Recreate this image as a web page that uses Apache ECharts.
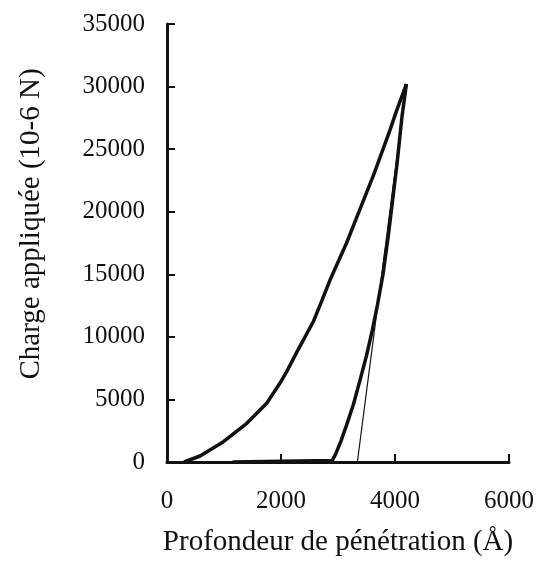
<!DOCTYPE html>
<html><head><meta charset="utf-8">
<script src="https://cdn.jsdelivr.net/npm/echarts@6/dist/echarts.min.js"></script>
<style>html,body{margin:0;padding:0;background:#fff}#c{width:543px;height:569px}</style>
</head><body><div id="c"></div>
<script>
// Loading curve (depth Å, load 10-6 N)
const loadDepth = [300, 580, 990, 1400, 1750, 1980, 2100, 2280, 2570, 2710, 2860, 3150, 3360, 3630, 3910, 4030, 4200];
const loadForce = [0, 480, 1620, 3090, 4690, 6290, 7220, 8800, 11250, 12810, 14540, 17500, 19900, 23000, 26500, 28100, 30200];
// Unloading curve
const unloadDepth = [4200, 4120, 4040, 3960, 3880, 3790, 3690, 3600, 3500, 3390, 3270, 3150, 3050, 2960, 2900, 2880, 1150];
const unloadForce = [30200, 27500, 24000, 21000, 18000, 15000, 12500, 10500, 8500, 6600, 4600, 2950, 1650, 650, 120, 0, 0];
// Tangent line at start of unloading
const tangentDepth = [4200, 3340];
const tangentForce = [30200, 0];

const xTicks = [0, 2000, 4000, 6000];
const yTicks = [0, 5000, 10000, 15000, 20000, 25000, 30000, 35000];

const FONT = '"Liberation Serif", "Times New Roman", serif';
const zip = (a, b) => a.map((v, i) => [v, b[i]]);

const chart = echarts.init(document.getElementById('c'), null, {renderer: 'canvas'});
chart.setOption({
  animation: false,
  backgroundColor: '#fff',
  grid: {left: 167, right: 34, top: 24, bottom: 107},
  xAxis: {
    type: 'value', min: xTicks[0], max: xTicks[xTicks.length - 1], interval: 2000,
    name: 'Profondeur de pénétration (Å)', nameLocation: 'middle', nameGap: 66,
    nameTextStyle: {fontFamily: FONT, fontSize: 29, color: '#111'},
    axisLine: {show: true, onZero: false, lineStyle: {color: '#111', width: 3}},
    axisTick: {show: true, inside: true, length: 8, lineStyle: {color: '#111', width: 2}},
    axisLabel: {fontFamily: FONT, fontSize: 25, color: '#111', margin: 27, formatter: v => String(v)},
    splitLine: {show: false}
  },
  yAxis: {
    type: 'value', min: yTicks[0], max: yTicks[yTicks.length - 1], interval: 5000,
    axisLine: {show: true, onZero: false, lineStyle: {color: '#111', width: 3}},
    axisTick: {show: true, inside: true, length: 8, lineStyle: {color: '#111', width: 2}},
    axisLabel: {fontFamily: FONT, fontSize: 25, color: '#111', margin: 22, formatter: v => String(v)},
    splitLine: {show: false}
  },
  graphic: [{
    type: 'text', x: 31, y: 224, rotation: Math.PI / 2,
    style: {text: 'Charge appliquée (10-6 N)', fontFamily: FONT, fontSize: 29, fill: '#111',
            align: 'center', verticalAlign: 'middle'}
  }],
  series: [
    {type: 'line', data: zip(loadDepth, loadForce), showSymbol: false,
     lineStyle: {color: '#111', width: 3.5}, z: 3},
    {type: 'line', data: zip(unloadDepth, unloadForce), showSymbol: false,
     lineStyle: {color: '#111', width: 3.5}, z: 3},
    {type: 'line', data: zip(tangentDepth, tangentForce), showSymbol: false,
     lineStyle: {color: '#111', width: 1.2}, z: 2}
  ]
});
</script>
</body></html>
